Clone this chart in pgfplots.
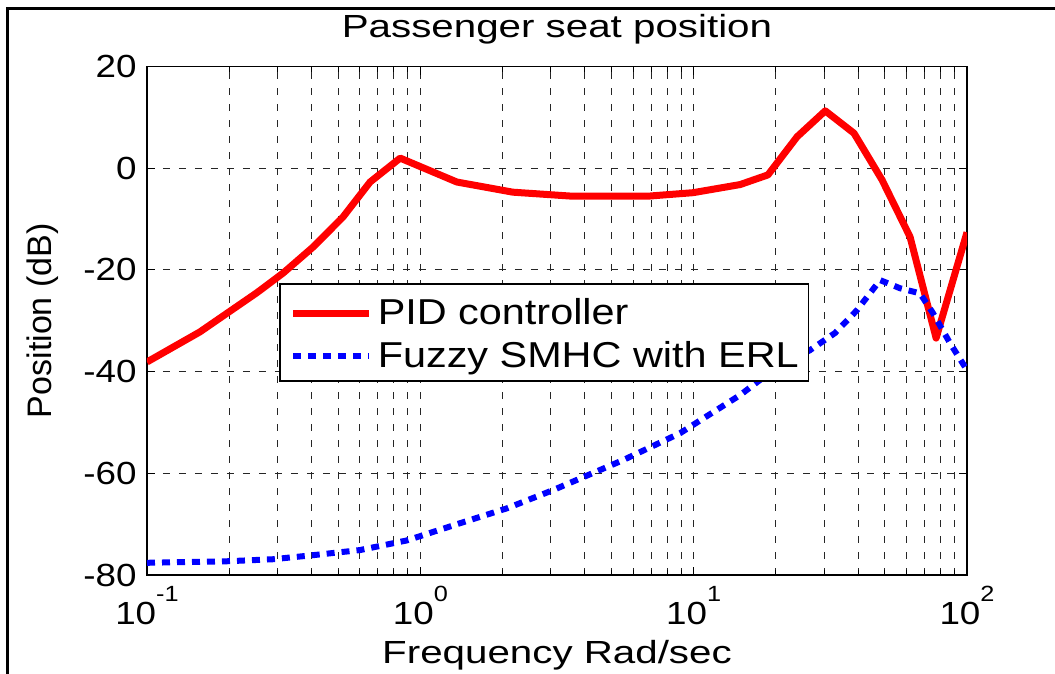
\documentclass[border=0pt]{standalone}
\usepackage{fontspec}
\setmainfont[FakeStretch=1.15]{Liberation Sans}
\newfontfamily\titlefont[FakeStretch=1.26]{Liberation Sans}
\newfontfamily\legfont[FakeStretch=1.15]{Liberation Sans}
\newfontfamily\ylabfont{Liberation Sans}
\usepackage{pgfplots}
\pgfplotsset{compat=1.18}
\newcommand\expo[1]{\raisebox{11.5pt}{\fontsize{11}{11}\selectfont #1}}
\begin{document}
\begin{tikzpicture}
\useasboundingbox (-73.5pt,-49.5pt) rectangle (454pt,287.5pt);
% outer frame (only top and left edges are inside the picture)
\draw[line width=1.4pt] (-69.7pt,-60pt) -- (-69.7pt,283.2pt) -- (470pt,283.2pt);
\begin{axis}[
  at={(0pt,0pt)}, anchor=south west,
  scale only axis, width=410pt, height=254.2pt,
  xmode=log, xmin=0.1, xmax=100, ymin=-80, ymax=20,
  xtick={0.1,1,10,100},
  xticklabels={10\expo{-1},10\expo{0},10\expo{1},10\expo{2}},
  minor xtick={0.2,0.3,0.4,0.5,0.6,0.7,0.8,0.9,2,3,4,5,6,7,8,9,20,30,40,50,60,70,80,90},
  ytick={-80,-60,-40,-20,0,20},
  yticklabels={-80,-60,-40,-20,0,20},
  tick align=inside,
  major tick length=4pt, minor tick length=2.5pt,
  every tick/.style={black, line width=0.5pt},
  axis line style={line width=0.75pt},
  grid=both,
  major grid style={black!85, line width=0.5pt, dash pattern=on 3.5pt off 4.5pt},
  minor grid style={black!85, line width=0.5pt, dash pattern=on 3.5pt off 4.5pt},
  ticklabel style={font=\fontsize{16}{16}\selectfont},
  yticklabel style={inner sep=0pt, xshift=-5pt},
  xticklabel style={inner sep=0pt, yshift=-5.5pt},
  title={\titlefont\fontsize{16}{16}\selectfont Passenger seat position},
  title style={at={(axis description cs:0.5,1)}, anchor=base, yshift=8.5pt},
  xlabel={\titlefont\fontsize{16}{16}\selectfont Frequency Rad/sec},
  xlabel style={at={(axis description cs:0.5,0)}, anchor=base, yshift=-44.5pt},
  ylabel={\ylabfont\fontsize{17}{17}\selectfont Position (dB)},
  ylabel style={at={(axis description cs:-0.1275,0.5)}, anchor=center},
  legend style={at={(0.161,0.5735)}, anchor=north west, draw=black,
    line width=0.75pt, fill=white, inner xsep=5pt, inner ysep=3.5pt,
    font=\legfont\fontsize{18}{18}\selectfont,
    nodes={inner sep=0pt, text height=16.5pt, text depth=3.5pt},
    row sep=1.5pt,
    /tikz/every odd column/.append style={column sep=2.5pt}},
  legend cell align=left,
  legend image code/.code={\draw[#1] (0pt,-1pt) -- (38pt,-1pt);},
]
\addplot[red, line width=3.5pt, line join=round] coordinates {
  (0.1,-38.1) (0.156,-32.2) (0.252,-24.5) (0.315,-20.6) (0.405,-15.5)
  (0.521,-9.6) (0.655,-2.7) (0.844,2.0) (1.36,-2.7) (2.18,-4.7)
  (3.62,-5.5) (6.75,-5.5) (9.95,-4.8) (14.8,-3.2) (18.7,-1.3)
  (23.9,6.2) (30.3,11.3) (38.6,6.9) (48.9,-2.3) (61.9,-13.5)
  (77.1,-33.4) (100,-12.6)
};
\addplot[blue, line width=3pt, dash pattern=on 4pt off 3.5pt] coordinates {
  (0.1,-77.6) (0.196,-77.3) (0.289,-76.9) (0.405,-76.1) (0.601,-75.1)
  (0.893,-73.2) (1.40,-69.8) (2.07,-66.9) (3.06,-63.3) (5.52,-57.4)
  (8.92,-52.1) (14.8,-44.6) (19.5,-39.7) (26.6,-35.8) (32.9,-32.4)
  (39.6,-27.9) (48.1,-22.0) (56.9,-23.6) (67.3,-24.6) (75.1,-28.5)
  (86.7,-34.4) (100,-39.7)
};
\legend{PID controller,Fuzzy SMHC with ERL}
\end{axis}
\end{tikzpicture}
\end{document}
